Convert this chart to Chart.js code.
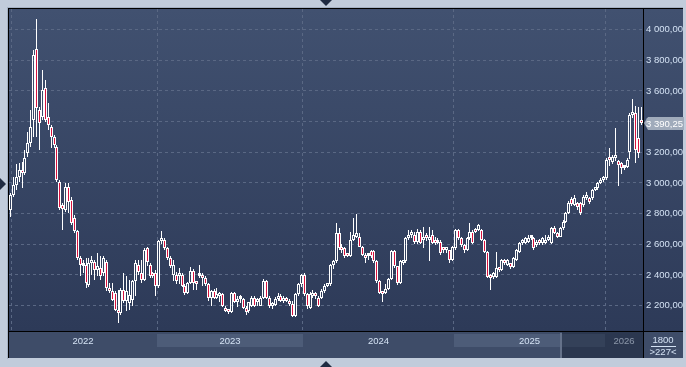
<!DOCTYPE html>
<html>
<head>
<meta charset="utf-8">
<script src="https://cdn.jsdelivr.net/npm/chart.js@4.4.1/dist/chart.umd.min.js"></script>
<style>
  html, body { margin: 0; padding: 0; background: #c1ccdb; }
  canvas { display: block; }
</style>
</head>
<body>
<canvas id="chart" width="686" height="367"></canvas>
<script>
// weekly candles
var opens = [
  2824, 2921, 2987, 3041, 3084, 3063, 3193, 3258, 3410, 3876,
  3475, 3431, 3616, 3431, 3366, 3301, 3236, 3008, 2857, 2824,
  2976, 2889, 2770, 2683, 2509, 2456, 2466, 2336, 2477, 2487,
  2433, 2444, 2412, 2487, 2303, 2292, 2281, 2173, 2151, 2303,
  2227, 2216, 2238, 2357, 2466, 2412, 2368, 2574, 2466, 2401,
  2412, 2325, 2618, 2628,
  2574, 2510, 2402, 2402, 2395, 2402, 2327, 2284, 2349, 2424,
  2349, 2390, 2402, 2381, 2338, 2252, 2295, 2252, 2263, 2273,
  2187, 2166, 2155, 2284, 2220, 2241, 2241, 2187, 2166, 2198,
  2252, 2220, 2198, 2252, 2359, 2252, 2198, 2205, 2241, 2263,
  2230, 2240, 2230, 2209, 2134, 2273, 2338, 2402, 2273, 2187,
  2263, 2270, 2252,
  2252, 2295, 2327, 2338, 2467, 2488, 2671, 2574, 2574, 2531,
  2521, 2628, 2650, 2650, 2585, 2531, 2521, 2553, 2553, 2488,
  2359, 2284, 2284, 2306, 2370, 2553, 2456, 2349, 2478, 2488,
  2639, 2660, 2660, 2617, 2682, 2628, 2660, 2628, 2660, 2628,
  2607,
  2616, 2562, 2560, 2562, 2497, 2573, 2693, 2638, 2595, 2562,
  2638, 2682, 2693, 2693, 2693, 2627, 2551, 2399, 2388, 2388,
  2443, 2432, 2497, 2464, 2475, 2453, 2497, 2551, 2606, 2606,
  2616, 2638, 2638, 2595, 2627, 2606, 2606, 2627, 2606, 2703,
  2671, 2649, 2703, 2747, 2801, 2893, 2856, 2866, 2866, 2856,
  2899, 2899, 2899, 2953, 2964,
  3000, 3018, 3029, 3160, 3138, 3160, 3140, 3127, 3095, 3106,
  3203, 3440, 3453, 3290, 3410
];
var highs = [
  2932, 3041, 3123, 3132, 3139, 3214, 3334, 3475, 3865, 4072,
  3497, 3735, 3670, 3518, 3377, 3312, 3247, 3019, 2867, 3002,
  2997, 2911, 2790, 2690, 2520, 2498, 2509, 2509, 2520, 2500,
  2542, 2520, 2520, 2495, 2346, 2346, 2292, 2303, 2314, 2412,
  2390, 2368, 2368, 2498, 2498, 2498, 2574, 2581, 2477, 2422,
  2433, 2628, 2683, 2640,
  2585, 2520, 2499, 2420, 2445, 2410, 2338, 2355, 2450, 2440,
  2360, 2467, 2410, 2390, 2345, 2300, 2310, 2316, 2290, 2284,
  2200, 2180, 2290, 2290, 2260, 2270, 2250, 2195, 2225, 2260,
  2265, 2250, 2260, 2376, 2365, 2260, 2225, 2255, 2280, 2275,
  2260, 2255, 2240, 2230, 2280, 2345, 2405, 2410, 2284, 2290,
  2300, 2290, 2265,
  2305, 2340, 2345, 2470, 2500, 2736, 2703, 2600, 2585, 2545,
  2682, 2768, 2800, 2671, 2590, 2540, 2545, 2565, 2560, 2495,
  2365, 2290, 2338, 2380, 2560, 2565, 2460, 2495, 2495, 2645,
  2693, 2690, 2680, 2700, 2690, 2714, 2670, 2714, 2690, 2650,
  2640,
  2625, 2575, 2570, 2565, 2590, 2700, 2700, 2645, 2600, 2645,
  2740, 2690, 2705, 2735, 2700, 2635, 2555, 2405, 2420, 2551,
  2450, 2505, 2505, 2505, 2480, 2515, 2570, 2615, 2635, 2650,
  2660, 2660, 2645, 2625, 2635, 2645, 2660, 2660, 2710, 2720,
  2680, 2710, 2755, 2810, 2880, 2910, 2921, 2875, 2875, 2920,
  2940, 2905, 2960, 2975, 3005,
  3030, 3045, 3160, 3225, 3180, 3355, 3150, 3135, 3115, 3160,
  3455, 3545, 3500, 3497, 3492
];
var lows = [
  2780, 2911, 2954, 3008, 2965, 3050, 3171, 3236, 3301, 3301,
  3214, 3410, 3399, 3345, 3225, 3225, 3008, 2824, 2694, 2813,
  2802, 2726, 2672, 2498, 2390, 2412, 2314, 2320, 2401, 2368,
  2390, 2368, 2390, 2292, 2281, 2227, 2162, 2086, 2140, 2216,
  2162, 2173, 2195, 2260, 2401, 2346, 2357, 2455, 2379, 2379,
  2260, 2314, 2600, 2560,
  2500, 2445, 2359, 2340, 2338, 2320, 2270, 2273, 2340, 2300,
  2300, 2380, 2330, 2330, 2230, 2200, 2240, 2241, 2220, 2190,
  2155, 2145, 2150, 2215, 2190, 2215, 2175, 2140, 2150, 2190,
  2190, 2200, 2195, 2245, 2245, 2185, 2180, 2195, 2230, 2220,
  2215, 2220, 2200, 2125, 2125, 2265, 2320, 2265, 2180, 2175,
  2250, 2240, 2190,
  2240, 2285, 2320, 2330, 2440, 2480, 2565, 2540, 2510, 2515,
  2515, 2620, 2640, 2580, 2520, 2478, 2500, 2510, 2480, 2350,
  2278, 2220, 2275, 2300, 2365, 2445, 2335, 2340, 2465, 2480,
  2630, 2640, 2600, 2600, 2600, 2574, 2620, 2488, 2600, 2595,
  2600,
  2530, 2545, 2540, 2480, 2490, 2565, 2630, 2585, 2545, 2555,
  2630, 2600, 2670, 2685, 2620, 2540, 2380, 2301, 2370, 2380,
  2420, 2425, 2465, 2455, 2440, 2445, 2490, 2545, 2595, 2600,
  2605, 2625, 2565, 2585, 2595, 2595, 2600, 2620, 2600, 2665,
  2640, 2645, 2695, 2740, 2795, 2850, 2850, 2820, 2790, 2845,
  2890, 2865, 2890, 2945, 2955,
  2990, 3005, 3020, 3110, 3120, 3140, 2979, 3060, 3085, 3095,
  3153, 3420, 3127, 3160, 3380
];
var closes = [
  2921, 2987, 3041, 3084, 3063, 3160, 3258, 3366, 3833, 3486,
  3388, 3605, 3410, 3377, 3301, 3247, 3019, 2835, 2831, 2976,
  2878, 2737, 2683, 2509, 2466, 2466, 2346, 2477, 2498, 2433,
  2455, 2390, 2509, 2314, 2292, 2238, 2173, 2151, 2303, 2227,
  2292, 2270, 2357, 2477, 2422, 2368, 2563, 2487, 2390, 2390,
  2325, 2618, 2640, 2574,
  2510, 2456, 2467, 2359, 2410, 2327, 2284, 2349, 2424, 2349,
  2338, 2402, 2381, 2338, 2252, 2295, 2252, 2273, 2273, 2198,
  2166, 2155, 2284, 2220, 2241, 2245, 2187, 2155, 2220, 2252,
  2198, 2241, 2252, 2359, 2252, 2198, 2215, 2241, 2263, 2230,
  2252, 2232, 2209, 2134, 2273, 2338, 2402, 2273, 2198, 2273,
  2284, 2263, 2198,
  2295, 2327, 2338, 2467, 2488, 2671, 2574, 2564, 2521, 2521,
  2628, 2660, 2671, 2585, 2531, 2510, 2531, 2521, 2488, 2359,
  2284, 2273, 2306, 2370, 2553, 2456, 2349, 2488, 2488, 2639,
  2660, 2671, 2617, 2682, 2607, 2650, 2639, 2650, 2607, 2607,
  2617,
  2541, 2560, 2562, 2497, 2584, 2693, 2638, 2595, 2562, 2638,
  2682, 2606, 2682, 2725, 2627, 2551, 2388, 2377, 2410, 2443,
  2432, 2497, 2475, 2497, 2453, 2508, 2562, 2606, 2627, 2638,
  2638, 2640, 2573, 2616, 2606, 2638, 2627, 2649, 2703, 2671,
  2649, 2703, 2747, 2801, 2866, 2862, 2899, 2845, 2801, 2910,
  2921, 2877, 2953, 2964, 2997,
  3018, 3030, 3150, 3149, 3170, 3175, 3116, 3095, 3106, 3149,
  3442, 3453, 3214, 3193, 3390.25
];

// axis and time band
var yTicks = [2200, 2400, 2600, 2800, 3000, 3200, 3400, 3600, 3800, 4000];
var years = ['2022', '2023', '2024', '2025', '2026'];
var yearStart = [1, 51, 101, 153, 205];   // candle index where each year begins
var navStart = 190;                        // candle index where the navigator window begins
var footTop = '1800';
var footBottom = '>227<';

var UP = 'rgba(0,0,0,0)';
var DOWN = '#d8123e';
var FONT = '"Liberation Sans", Arial, sans-serif';

function fmt(v) {
  var s = Number(v).toFixed(2).replace('.', ',');
  return s.replace(/\B(?=(\d{3})+(?!\d))/g, ' ');
}

var labels = closes.map(function (c, i) { return i; });
var bodies = opens.map(function (o, i) { return [o, closes[i]]; });
var upperWicks = opens.map(function (o, i) { return [Math.max(o, closes[i]), highs[i]]; });
var lowerWicks = opens.map(function (o, i) { return [lows[i], Math.min(o, closes[i])]; });
var bodyColors = opens.map(function (o, i) { return closes[i] < o ? DOWN : UP; });

// put every candle on whole pixels so the white lines stay sharp
const snapPlugin = {
  id: 'snap',
  beforeDatasetsDraw(chart) {
    chart.data.datasets.forEach(function (ds, di) {
      chart.getDatasetMeta(di).data.forEach(function (el) {
        el.x = Math.floor(el.x) + 0.5;
        el.y = Math.round(el.y);
        el.base = Math.round(el.base);
      });
    });
  }
};

const framePlugin = {
  id: 'frame',
  beforeDraw(chart) {
    const ctx = chart.ctx;
    const a = chart.chartArea;
    const x = chart.scales.x;
    const W = chart.width;
    ctx.save();
    ctx.fillStyle = '#c1ccdb';
    ctx.fillRect(0, 0, W, chart.height);

    // outer light edge
    ctx.fillStyle = '#a3b0c3';
    ctx.fillRect(a.left - 2, a.top - 2, W - a.left - 1, 1);
    ctx.fillRect(a.left - 2, a.top - 2, 1, 352);

    // panel
    const g = ctx.createLinearGradient(0, a.top, 0, a.bottom);
    g.addColorStop(0, '#415170');
    g.addColorStop(1, '#2d3a58');
    ctx.fillStyle = g;
    ctx.fillRect(a.left, a.top, W - a.left - 3, a.bottom - a.top);

    // time band
    const bt = a.bottom + 1;
    ctx.fillStyle = '#3e4c68';
    ctx.fillRect(a.left, bt, W - a.left - 3, 26);

    const half = (x.getPixelForValue(1) - x.getPixelForValue(0)) / 2;
    const edges = yearStart.map(function (k) { return Math.round(x.getPixelForValue(k) - half); });
    ctx.font = '9.5px ' + FONT;
    ctx.textAlign = 'center';
    ctx.textBaseline = 'middle';
    years.forEach(function (y, i) {
      const x0 = i === 0 ? a.left : edges[i];
      const x1 = i + 1 < years.length ? edges[i + 1] : a.right;
      if (i % 2 === 1) {
        ctx.fillStyle = '#4d5c78';
        ctx.fillRect(x0, bt + 2, x1 - x0, 13);
      }
      ctx.fillStyle = '#d4e2f4';
      ctx.fillText(y, (x0 + x1) / 2, bt + 9);
    });

    // navigator window
    const nx = Math.round(x.getPixelForValue(navStart) - half);
    ctx.fillStyle = 'rgba(14,22,40,0.38)';
    ctx.fillRect(nx, bt, a.right - nx, 26);
    ctx.fillStyle = '#65728a';
    ctx.fillRect(nx - 2, bt + 1, 2, 25);
    ctx.restore();
  },
  afterDraw(chart) {
    const ctx = chart.ctx;
    const a = chart.chartArea;
    const yS = chart.scales.y;
    const W = chart.width;
    ctx.save();

    // black frame lines
    ctx.fillStyle = '#000000';
    ctx.fillRect(a.left - 1, a.top - 1, W - a.left - 2, 1);
    ctx.fillRect(a.left - 1, a.top - 1, 1, a.bottom - a.top + 28);
    ctx.fillRect(a.right, a.top - 1, 1, a.bottom - a.top + 28);
    ctx.fillRect(a.left - 1, a.bottom, W - a.left - 2, 1);

    // last price tag
    const last = closes[closes.length - 1];
    const py = Math.round(yS.getPixelForValue(last));
    ctx.fillStyle = '#a0abbb';
    ctx.beginPath();
    ctx.moveTo(a.right + 1, py);
    ctx.lineTo(a.right + 5, py - 6);
    ctx.lineTo(W - 2, py - 6);
    ctx.lineTo(W - 2, py + 7);
    ctx.lineTo(a.right + 5, py + 7);
    ctx.closePath();
    ctx.fill();
    ctx.font = '9.5px ' + FONT;
    ctx.textAlign = 'left';
    ctx.textBaseline = 'middle';
    ctx.fillStyle = '#ffffff';
    ctx.fillText(fmt(last), a.right + 3, py + 1);

    // footer box
    const bx = (a.right + W - 3) / 2;
    ctx.textAlign = 'center';
    ctx.fillStyle = '#d4e2f4';
    ctx.fillText(footTop, bx, a.bottom + 9);
    ctx.fillRect(bx - 12, a.bottom + 15, 25, 1);
    ctx.fillText(footBottom, bx, a.bottom + 21);

    // scroll markers
    ctx.fillStyle = '#1f2b42';
    const cx = Math.round((a.left + a.right) / 2);
    ctx.beginPath();
    ctx.moveTo(cx - 6, 0); ctx.lineTo(cx + 6, 0); ctx.lineTo(cx, 6); ctx.closePath();
    ctx.fill();
    ctx.beginPath();
    ctx.moveTo(cx - 6, chart.height); ctx.lineTo(cx + 6, chart.height); ctx.lineTo(cx, chart.height - 6); ctx.closePath();
    ctx.fill();
    const cy = Math.round((a.top + a.bottom) / 2) + 14;
    ctx.beginPath();
    ctx.moveTo(0, cy - 6); ctx.lineTo(6, cy); ctx.lineTo(0, cy + 6); ctx.closePath();
    ctx.fill();
    ctx.restore();
  }
};

var ctx = document.getElementById('chart').getContext('2d');
var chart = new Chart(ctx, {
  type: 'bar',
  data: {
    labels: labels,
    datasets: [
      {
        label: 'body',
        data: bodies,
        backgroundColor: bodyColors,
        borderColor: '#ffffff',
        borderWidth: 1,
        borderSkipped: false,
        barThickness: 3,
        minBarLength: 3,
        inflateAmount: 0,
        grouped: false
      },
      {
        label: 'upper wick',
        data: upperWicks,
        backgroundColor: '#ffffff',
        borderWidth: 0,
        barThickness: 1,
        inflateAmount: 0,
        grouped: false
      },
      {
        label: 'lower wick',
        data: lowerWicks,
        backgroundColor: '#ffffff',
        borderWidth: 0,
        barThickness: 1,
        inflateAmount: 0,
        grouped: false
      }
    ]
  },
  options: {
    responsive: false,
    animation: false,
    events: [],
    layout: { padding: { left: 9, top: 9, right: 0, bottom: 36 } },
    plugins: { legend: { display: false }, tooltip: { enabled: false } },
    scales: {
      x: {
        type: 'category',
        ticks: { display: false },
        border: { display: false, dash: [3, 3] },
        grid: {
          offset: true,
          drawTicks: false,
          color: function (c) {
            return yearStart.indexOf(c.index) >= 0 ? '#5a6884' : 'rgba(0,0,0,0)';
          }
        },
        afterFit: function (s) { s.height = 0; }
      },
      y: {
        position: 'right',
        min: 2034,
        max: 4134,
        afterBuildTicks: function (s) {
          s.ticks = yTicks.map(function (v) { return { value: v }; });
        },
        afterFit: function (s) { s.width = 43; },
        border: { display: false, dash: [3, 3] },
        grid: { color: '#5a6884', drawTicks: false },
        ticks: {
          padding: 3,
          color: '#d4e2f4',
          font: { family: FONT, size: 9.5 },
          callback: function (v) { return fmt(v); }
        }
      }
    }
  },
  plugins: [framePlugin, snapPlugin]
});
</script>
</body>
</html>
